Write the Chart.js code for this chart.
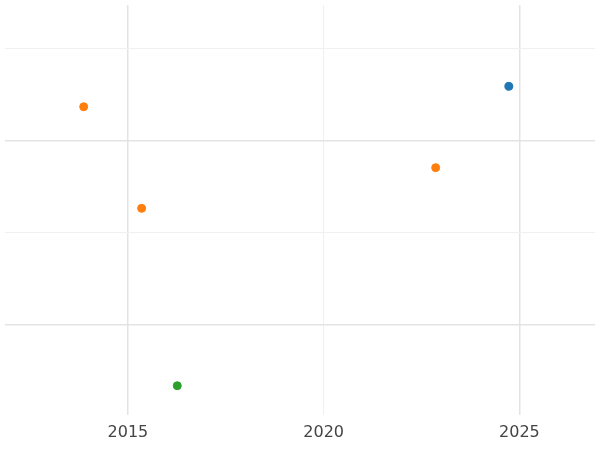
<!DOCTYPE html>
<html>
<head>
<script src="https://cdn.jsdelivr.net/npm/chart.js@4"></script>
<style>body{margin:0;background:#fff}#wrap{width:600px;height:450px}</style>
</head>
<body>
<div id="wrap"><canvas id="c"></canvas></div>
<script>
// values
var blueX = [2024.73];
var blueY = [1.295];
var orangeX = [2013.87, 2022.86, 2015.35];
var orangeY = [1.184, 0.853, 0.632];
var greenX = [2016.26];
var greenY = [-0.332];
var xTicks = [2015, 2020, 2025];

function pts(xs, ys) {
  var out = [];
  for (var i = 0; i < xs.length; i++) out.push({ x: xs[i], y: ys[i] });
  return out;
}
function set(xs, ys, color) {
  return { data: pts(xs, ys), backgroundColor: color, borderColor: color, pointRadius: 4, pointHoverRadius: 4 };
}

new Chart(document.getElementById("c"), {
  type: "scatter",
  data: {
    datasets: [
      set(blueX, blueY, "#1f77b4"),
      set(orangeX, orangeY, "#ff7f0e"),
      set(greenX, greenY, "#2ca02c"),
    ],
  },
  options: {
    responsive: true,
    maintainAspectRatio: false,
    animation: false,
    layout: { padding: { left: -5, right: -5, top: -5, bottom: 0 } },
    plugins: { legend: { display: false }, tooltip: { enabled: false } },
    scales: {
      x: {
        min: 2011.86,
        max: 2026.93,
        afterBuildTicks: function (axis) {
          axis.ticks = xTicks.map(function (v) { return { value: v }; });
        },
        ticks: { color: "#444", font: { size: 16, family: "DejaVu Sans" }, padding: 8, callback: function (v) { return v; } },
        border: { display: false },
        grid: {
          drawTicks: false,
          color: function (c) { return c.tick && c.tick.value === 2020 ? "#f0f0f0" : "#e3e3e3"; },
          lineWidth: function (c) { return c.tick && c.tick.value === 2020 ? 1 : 1.5; },
        },
      },
      y: {
        min: -0.49,
        max: 1.737,
        afterBuildTicks: function (axis) {
          axis.ticks = [0, 0.5, 1, 1.5].map(function (v) { return { value: v }; });
        },
        ticks: { display: false },
        border: { display: false },
        grid: {
          drawTicks: false,
          color: function (c) { return c.tick && (c.tick.value === 0 || c.tick.value === 1) ? "#e3e3e3" : "#f0f0f0"; },
          lineWidth: function (c) { return c.tick && (c.tick.value === 0 || c.tick.value === 1) ? 1.5 : 1; },
        },
      },
    },
  },
});
</script>
</body>
</html>
